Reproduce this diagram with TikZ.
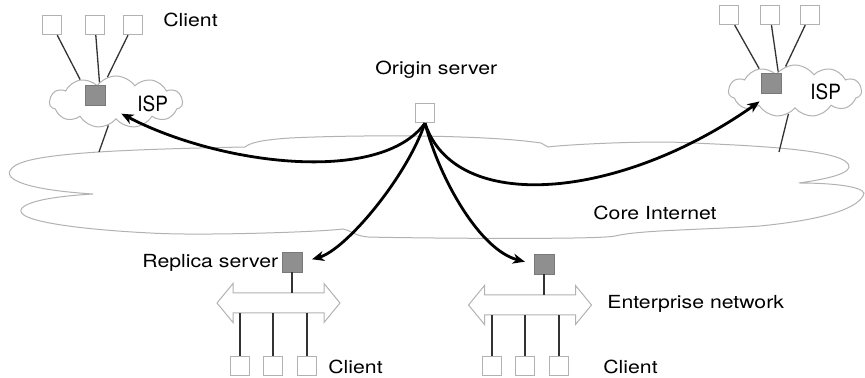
\documentclass[tikz,border=0pt]{standalone}
\usepackage{fontspec}
\setmainfont{TeX Gyre Heros}[FakeStretch=1.18]
\newfontfamily\ispfont{TeX Gyre Heros}[FakeStretch=0.9]
\usetikzlibrary{arrows.meta, shapes.symbols}

\definecolor{linegray}{gray}{0.70}
\definecolor{boxgray}{gray}{0.56}

\begin{document}
\begin{tikzpicture}[x=0.5pt, y=-0.5pt,
  host/.style={draw=linegray, fill=white, minimum size=9.75pt, inner sep=0pt, line width=0.45pt},
  cache/.style={draw=boxgray!85!black, fill=boxgray, minimum size=10pt, inner sep=0pt, line width=0.4pt},
  isp/.style={cloud, cloud puffs=11, cloud puff arc=110, aspect=2.6, draw=linegray, fill=white,
              line width=0.5pt, minimum width=66.5pt, minimum height=26pt, inner sep=0pt},
  lbl/.style={font=\fontsize{9}{10}\selectfont, inner sep=0pt, anchor=base west},
  wire/.style={draw=black!80, line width=0.65pt},
  flow/.style={-{Stealth[length=6pt, width=5pt, inset=1.8pt]}, line width=1.4pt},
  lan/.pic={
    \draw[draw=linegray, line width=0.5pt, fill=white] (-61.5,0) -- (-45.5,-19.5) -- (-45.5,-10)
      -- (45.5,-10) -- (45.5,-19.5) -- (61.5,0) -- (45.5,19.5) -- (45.5,10) -- (-45.5,10)
      -- (-45.5,19.5) -- cycle;
    \coordinate (-top) at (0,-10);
    \coordinate (-bot) at (0,10);
  }
]
  \useasboundingbox (0,0) rectangle (865,378);

  % core internet
  \draw[draw=linegray, line width=0.5pt, fill=white]
    (93,194) .. controls (30,190) and (0,180) .. (12,168)
    .. controls (25,155) and (90,150) .. (245,147)
    .. controls (250,143) and (260,140) .. (290,138)
    .. controls (350,135) and (480,134) .. (541,143)
    -- (548,147)
    .. controls (560,145) and (650,140) .. (693,143)
    .. controls (760,146) and (850,150) .. (849,167)
    .. controls (848,175) and (820,180) .. (799,183)
    .. controls (840,183) and (870,188) .. (863,196)
    .. controls (855,210) and (820,220) .. (760,226)
    .. controls (700,230) and (640,230) .. (615,236)
    .. controls (600,240) and (400,238) .. (368,237)
    .. controls (355,236) and (350,230) .. (343,229)
    .. controls (320,232) and (200,236) .. (150,233)
    .. controls (90,230) and (10,222) .. (22,208)
    .. controls (30,200) and (60,196) .. (93,194);
  \node[lbl] (core) at (593,220) {Core Internet};
  \coordinate (coreL) at (99,152);
  \coordinate (coreR) at (779,152);

  % left ISP
  \node[isp]  (isp1) at (116,102) {};
  \node[cache] (gw1) at (95,95) {};
  \node[lbl, font=\ispfont\fontsize{10.5}{12}\selectfont] (isp1txt) at (137,112) {ISP};
  \node[host] (c1) at (52,25) {};
  \node[host] (c2) at (95,25) {};
  \node[host] (c3) at (133,25) {};
  \node[lbl] (c1txt) at (163,27) {Client};
  \draw[wire] (c1) -- (isp1.148);
  \draw[wire] (c2) -- (isp1.130);
  \draw[wire] (c3) -- (isp1.109);
  \draw[wire] (isp1.-108) -- (coreL);

  % right ISP
  \node[isp]  (isp2) at (795,91) {};
  \node[cache] (gw2) at (771,83) {};
  \node[lbl, font=\ispfont\fontsize{10.5}{12}\selectfont] (isp2txt) at (810,100) {ISP};
  \node[host] (d1) at (729,15) {};
  \node[host] (d2) at (770,15) {};
  \node[host] (d3) at (810,15) {};
  \draw[wire] (d1) -- (isp2.148);
  \draw[wire] (d2) -- (isp2.131);
  \draw[wire] (d3) -- (isp2.111);
  \draw[wire] (isp2.-106) -- (coreR);

  % origin
  \node[host] (origin) at (425,113) {};
  \node[lbl] (origintxt) at (375,75) {Origin server};

  % replica server network
  \node[cache] (rs) at (292,262) {};
  \node[lbl] (rstxt) at (142,268) {Replica server};
  \pic (lanA) at (278.5,303) {lan};
  \draw[wire] (rs.south) -- (rs.south |- lanA-top);
  \node[host] (b1) at (240,366) {};
  \node[host] (b2) at (273,366) {};
  \node[host] (b3) at (307,366) {};
  \node[lbl] (b1txt) at (328,373) {Client};
  \foreach \c in {b1,b2,b3}
    \draw[wire] (\c.north) -- (\c.north |- lanA-bot);

  % enterprise network
  \node[cache] (ew) at (544,264) {};
  \pic (lanB) at (530,305) {lan};
  \node[lbl] (lanBtxt) at (607,309) {Enterprise network};
  \draw[wire] (ew.south) -- (ew.south |- lanB-top);
  \node[host] (e1) at (492,366) {};
  \node[host] (e2) at (525,366) {};
  \node[host] (e3) at (559,366) {};
  \node[lbl] (e1txt) at (603,373) {Client};
  \foreach \c in {e1,e2,e3}
    \draw[wire] (\c.north) -- (\c.north |- lanB-bot);

  % pushes from origin
  \draw[flow, shorten >=9pt] (origin.south) .. controls (380,185) and (220,165) .. (gw1.south east);
  \draw[flow, shorten >=7pt] (origin.south) .. controls (455,215) and (620,200) .. (gw2.south);
  \draw[flow, shorten >=5pt] (origin.south) .. controls (405,180) and (345,250) .. (rs.east);
  \draw[flow, shorten >=4.5pt] (origin.south) .. controls (440,180) and (480,250) .. (ew.west);
\end{tikzpicture}
\end{document}
